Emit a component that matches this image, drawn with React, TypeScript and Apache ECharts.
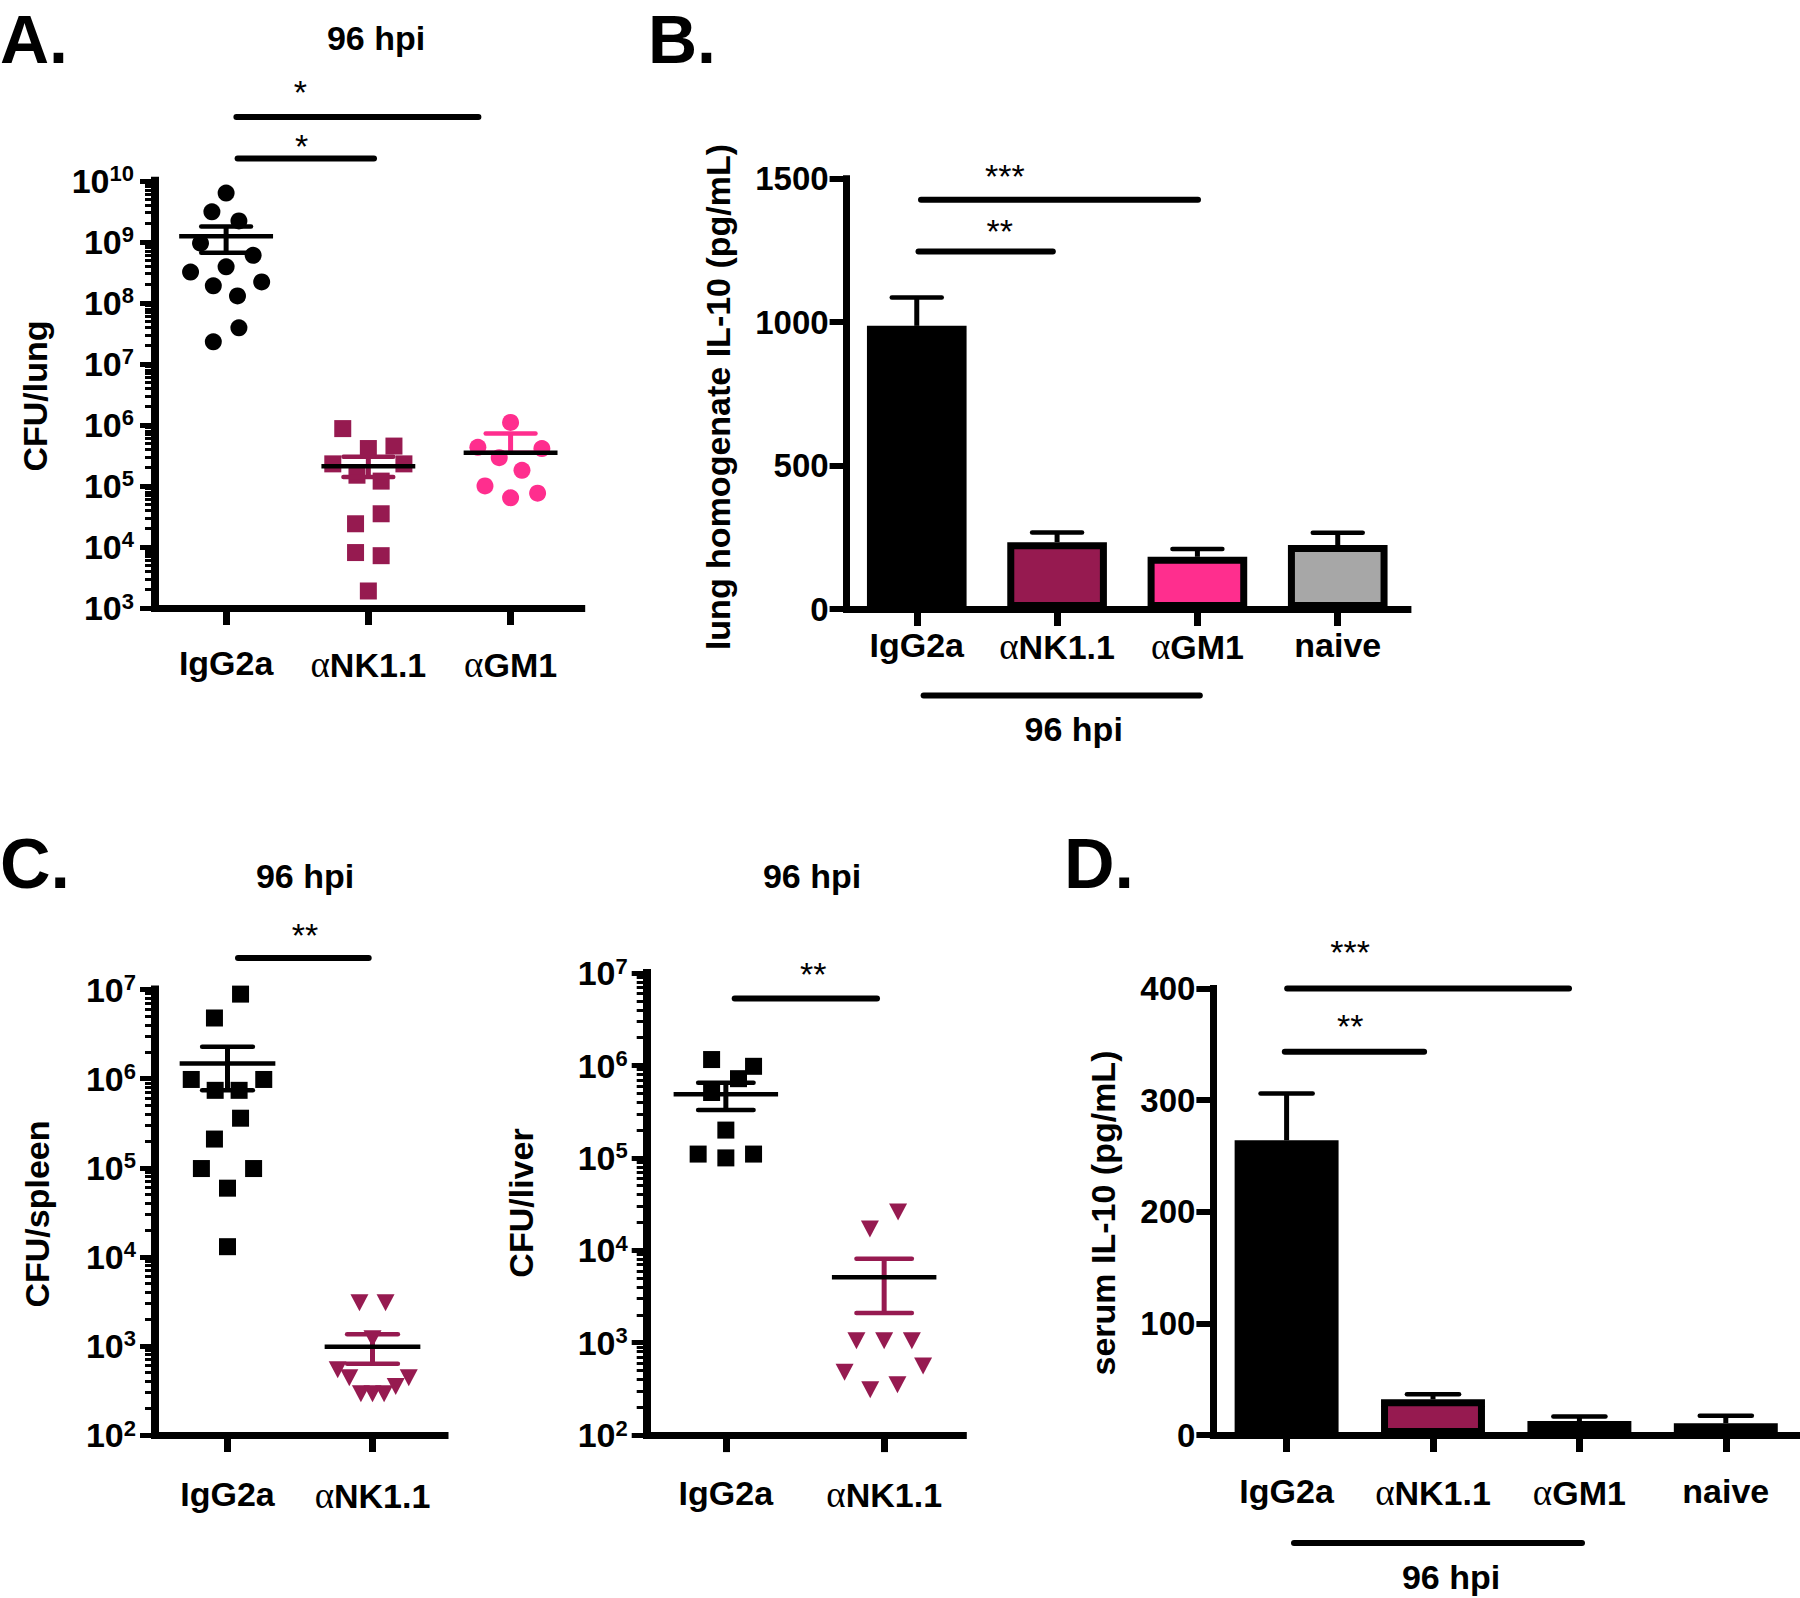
import React, { useEffect, useRef } from 'react';
import * as echarts from 'echarts';

const FONT = '"Liberation Sans", Arial, Helvetica, sans-serif';
const SERIF = '"Liberation Serif", "DejaVu Serif", serif';
const BLACK = '#000000';
const MAGENTA = '#961A50';
const PINK = '#FF2E8E';
const GREY = '#A7A7A7';

// ---------- Panel A: CFU/lung (log) ----------
const catsA = ['IgG2a', 'αNK1.1', 'αGM1'];
const lungIgG2a = [6.3e9, 3.1e9, 2.2e9, 9.5e8, 6.0e8, 3.9e8, 3.2e8, 2.2e8, 1.9e8, 1.3e8, 3.9e7, 2.3e7];
const lungIgG2aJitter = [0, -0.1, 0.09, -0.18, 0.19, 0, -0.25, 0.25, -0.09, 0.08, 0.09, -0.09];
const lungNK = [8.7e5, 4.1e5, 4.5e5, 2.3e5, 2.3e5, 1.5e5, 1.2e5, 3.5e4, 2.4e4, 8.1e3, 7.2e3, 1.9e3];
const lungNKJitter = [-0.18, 0, 0.18, -0.25, 0.25, -0.08, 0.09, 0.09, -0.09, -0.09, 0.09, 0];
const lungGM1 = [1.1e6, 4.3e5, 4.1e5, 2.9e5, 1.8e5, 1.0e5, 7.6e4, 6.4e4];
const lungGM1Jitter = [0, -0.23, 0.22, -0.08, 0.08, -0.18, 0.19, 0];
const lungMean = [1.23e9, 2.1e5, 3.5e5];
const lungSemHigh = [1.78e9, 3.0e5, 7.2e5];
const lungSemLow = [6.6e8, 1.4e5, 3.5e5];

// ---------- Panel B: lung homogenate IL-10 ----------
const catsB = ['IgG2a', 'αNK1.1', 'αGM1', 'naive'];
const lungIL10 = [987, 233, 182, 223];
const lungIL10High = [1086, 267, 209, 266];

// ---------- Panel C: CFU/spleen, CFU/liver (log) ----------
const catsC = ['IgG2a', 'αNK1.1'];
const spleenIgG2a = [8.9e6, 4.8e6, 9.8e5, 9.8e5, 7.4e5, 7.4e5, 3.6e5, 2.1e5, 9.8e4, 9.8e4, 5.9e4, 1.3e4];
const spleenIgG2aJitter = [0.09, -0.09, -0.25, 0.25, -0.085, 0.08, 0.09, -0.09, -0.18, 0.18, 0, 0];
const spleenNK = [3.05e3, 3.05e3, 1.2e3, 5.4e2, 4.4e2, 2.9e2, 2.9e2, 2.9e2, 3.5e2, 4.4e2];
const spleenNKJitter = [-0.09, 0.09, 0, -0.24, -0.16, -0.08, 0, 0.08, 0.16, 0.25];
const spleenMean = [1.48e6, 9.8e2];
const spleenSemHigh = [2.28e6, 1.35e3];
const spleenSemLow = [7.4e5, 6.3e2];

const liverIgG2a = [1.16e6, 9.8e5, 7.2e5, 5.1e5, 2.0e5, 1.1e5, 1.0e5, 1.1e5];
const liverIgG2aJitter = [-0.09, 0.175, 0.08, -0.09, 0, -0.175, 0, 0.175];
const liverNK = [2.6e4, 1.7e4, 1.05e3, 1.05e3, 1.05e3, 4.8e2, 5.6e2, 3.1e2, 3.5e2];
const liverNKJitter = [0.088, -0.09, -0.175, 0, 0.175, -0.25, 0.246, -0.088, 0.084];
const liverMean = [4.9e5, 5.1e3];
const liverSemHigh = [6.5e5, 8.1e3];
const liverSemLow = [3.3e5, 2.1e3];

// ---------- Panel D: serum IL-10 ----------
const catsD = ['IgG2a', 'αNK1.1', 'αGM1', 'naive'];
const serumIL10 = [264, 32, 12.5, 10.5];
const serumIL10High = [306, 36.5, 16.5, 17.3];

const barColors = [BLACK, MAGENTA, PINK, GREY];
const groupColors = [BLACK, MAGENTA, PINK];

function minorLogTicks(lo: number, hi: number) {
  const out: number[] = [];
  for (let n = lo; n < hi; n++) {
    for (let k = 2; k <= 9; k++) out.push(n + Math.log10(k));
  }
  return out;
}

const catLabel = (v: string) => (v.charAt(0) === 'α' ? `{al|α}{b|${v.slice(1)}}` : `{b|${v}}`);
const catRich = {
  b: { fontFamily: FONT, fontSize: 34, fontWeight: 'bold', color: BLACK },
  al: { fontFamily: SERIF, fontSize: 37, fontWeight: 'normal', color: BLACK },
};

function catAxis(gridIndex: number, data: string[], margin: number) {
  return {
    type: 'category', gridIndex, data, boundaryGap: true, position: 'bottom',
    axisLine: { show: true, onZero: false, lineStyle: { color: BLACK, width: 7, cap: 'square' } },
    axisTick: { show: true, alignWithLabel: true, length: 17, lineStyle: { color: BLACK, width: 7 } },
    axisLabel: { margin, interval: 0, formatter: catLabel, rich: catRich },
    splitLine: { show: false },
  };
}
function hiddenX(gridIndex: number, n: number) {
  return { type: 'value', gridIndex, min: -0.5, max: n - 0.5, show: false, splitLine: { show: false } };
}
function logY(gridIndex: number, lo: number, hi: number, margin: number) {
  return {
    type: 'log', logBase: 10, gridIndex, min: Math.pow(10, lo), max: Math.pow(10, hi), position: 'left',
    axisLine: { show: true, onZero: false, lineStyle: { color: BLACK, width: 8, cap: 'square' } },
    axisTick: { show: true, length: 15, lineStyle: { color: BLACK, width: 5 } },
    axisLabel: {
      margin,
      formatter: (v: number) => `{b|10}{s|${Math.round(Math.log10(v))}}`,
      rich: {
        b: { fontFamily: FONT, fontSize: 34, fontWeight: 'bold', color: BLACK, lineHeight: 36 },
        s: { fontFamily: FONT, fontSize: 22, fontWeight: 'bold', color: BLACK, lineHeight: 23, verticalAlign: 'top' },
      },
    },
    splitLine: { show: false },
    minorTick: { show: false },
  };
}
function minorY(gridIndex: number, lo: number, hi: number) {
  return {
    type: 'value', gridIndex, min: lo, max: hi, position: 'left',
    axisLine: { show: false, onZero: false },
    axisLabel: { show: false },
    splitLine: { show: false },
    axisTick: { show: true, length: 10, lineStyle: { color: BLACK, width: 3 }, customValues: minorLogTicks(lo, hi) },
  };
}
function linY(gridIndex: number, max: number, interval: number) {
  return {
    type: 'value', gridIndex, min: 0, max, interval, position: 'left',
    axisLine: { show: true, onZero: false, lineStyle: { color: BLACK, width: 7, cap: 'square' } },
    axisTick: { show: true, length: 17, lineStyle: { color: BLACK, width: 6 } },
    axisLabel: {
      margin: 18, color: BLACK, fontFamily: FONT, fontSize: 33, fontWeight: 'bold',
      formatter: (v: number) => String(v),
    },
    splitLine: { show: false },
  };
}

function scatter(xi: number, yi: number, vals: number[], jit: number[], center: number, symbol: string, color: string, size: any, rotate = 0) {
  return {
    type: 'scatter', xAxisIndex: xi, yAxisIndex: yi, symbol, symbolSize: size, symbolRotate: rotate,
    itemStyle: { color, opacity: 1 }, silent: true, z: 2,
    data: vals.map((v, i) => [center + jit[i], v]),
  };
}

function meanSem(xi: number, yi: number, means: number[], highs: number[], lows: number[], colors: string[]) {
  return {
    type: 'custom', xAxisIndex: xi, yAxisIndex: yi, z: 5, silent: true,
    data: means.map((m, i) => [i, m, highs[i], lows[i], i]),
    renderItem: (_p: any, api: any) => {
      const x = api.value(0);
      const pm = api.coord([x, api.value(1)]);
      const ph = api.coord([x, api.value(2)]);
      const pl = api.coord([x, api.value(3)]);
      const unit = api.coord([x + 1, api.value(1)])[0] - pm[0];
      const c = colors[api.value(4)];
      const capW = unit * 0.175;
      const meanW = unit * 0.33;
      const capStyle = { stroke: c, lineWidth: 4.5, lineCap: 'round' };
      return {
        type: 'group',
        children: [
          { type: 'line', shape: { x1: pm[0], y1: pl[1], x2: pm[0], y2: ph[1] }, style: { stroke: c, lineWidth: 5 } },
          { type: 'line', shape: { x1: pm[0] - capW, y1: ph[1], x2: pm[0] + capW, y2: ph[1] }, style: capStyle },
          { type: 'line', shape: { x1: pm[0] - capW, y1: pl[1], x2: pm[0] + capW, y2: pl[1] }, style: capStyle },
          { type: 'line', shape: { x1: pm[0] - meanW, y1: pm[1], x2: pm[0] + meanW, y2: pm[1] }, style: { stroke: BLACK, lineWidth: 4.5 } },
        ],
      };
    },
  };
}

function bars(xi: number, yi: number, vals: number[]) {
  return {
    type: 'bar', xAxisIndex: xi, yAxisIndex: yi, barWidth: '71%', silent: true, z: 2,
    itemStyle: { borderColor: BLACK, borderWidth: 7 },
    data: vals.map((v, i) => ({ value: v, itemStyle: { color: barColors[i] } })),
  };
}

function barErr(xi: number, yi: number, vals: number[], highs: number[]) {
  return {
    type: 'custom', xAxisIndex: xi, yAxisIndex: yi, z: 5, silent: true,
    data: vals.map((v, i) => [i, v, highs[i]]),
    renderItem: (_p: any, api: any) => {
      const p0 = api.coord([api.value(0), api.value(1)]);
      const p1 = api.coord([api.value(0), api.value(2)]);
      const band = api.size([1, 0])[0];
      const capW = band * 0.178;
      return {
        type: 'group',
        children: [
          { type: 'line', shape: { x1: p0[0], y1: p0[1], x2: p1[0], y2: p1[1] }, style: { stroke: BLACK, lineWidth: 5 } },
          { type: 'line', shape: { x1: p1[0] - capW, y1: p1[1], x2: p1[0] + capW, y2: p1[1] }, style: { stroke: BLACK, lineWidth: 4.5, lineCap: 'round' } },
        ],
      };
    },
  };
}

const txt = (text: string, x: number, y: number, size: number, opts: any = {}) => ({
  type: 'text', x, y, rotation: opts.rot || 0, silent: true,
  style: {
    text, fontFamily: FONT, fontSize: size, fontWeight: opts.weight || 'bold', fill: BLACK,
    align: opts.align || 'center', verticalAlign: 'middle',
  },
});
const hbar = (x1: number, x2: number, y: number) => ({
  type: 'line', silent: true, shape: { x1, y1: y, x2, y2: y },
  style: { stroke: BLACK, lineWidth: 6, lineCap: 'round' },
});

export default function App() {
  const ref = useRef<HTMLDivElement>(null);
  useEffect(() => {
    if (!ref.current) return;
    const chart = echarts.init(ref.current, null, { renderer: 'svg' });
    const option: any = {
      animation: false,
      backgroundColor: '#ffffff',
      textStyle: { fontFamily: FONT },
      grid: [
        { left: 155, top: 180.8, width: 426.7, height: 427.2, outerBoundsMode: 'none' },
        { left: 846.6, top: 178.7, width: 561.3, height: 430.3, outerBoundsMode: 'none' },
        { left: 155, top: 989.6, width: 290, height: 445.4, outerBoundsMode: 'none' },
        { left: 646.7, top: 973.1, width: 316.6, height: 462, outerBoundsMode: 'none' },
        { left: 1213.4, top: 988.5, width: 585.6, height: 446.5, outerBoundsMode: 'none' },
      ],
      xAxis: [
        catAxis(0, catsA, 38),
        hiddenX(0, catsA.length),
        catAxis(1, catsB, 19),
        catAxis(2, catsC, 42),
        hiddenX(2, catsC.length),
        catAxis(3, catsC, 41),
        hiddenX(3, catsC.length),
        catAxis(4, catsD, 39),
      ],
      yAxis: [
        logY(0, 3, 10, 21),
        minorY(0, 3, 10),
        linY(1, 1500, 500),
        logY(2, 2, 7, 19),
        minorY(2, 2, 7),
        logY(3, 2, 7, 19),
        minorY(3, 2, 7),
        linY(4, 400, 100),
      ],
      series: [
        // A
        scatter(1, 0, lungIgG2a, lungIgG2aJitter, 0, 'circle', BLACK, 17),
        scatter(1, 0, lungNK, lungNKJitter, 1, 'rect', MAGENTA, 17),
        scatter(1, 0, lungGM1, lungGM1Jitter, 2, 'circle', PINK, 17),
        meanSem(1, 0, lungMean, lungSemHigh, lungSemLow, groupColors),
        // B
        bars(2, 2, lungIL10),
        barErr(2, 2, lungIL10, lungIL10High),
        // C spleen
        scatter(4, 3, spleenIgG2a, spleenIgG2aJitter, 0, 'rect', BLACK, 17),
        scatter(4, 3, spleenNK, spleenNKJitter, 1, 'triangle', MAGENTA, [18, 17], 180),
        meanSem(4, 3, spleenMean, spleenSemHigh, spleenSemLow, groupColors),
        // C liver
        scatter(6, 5, liverIgG2a, liverIgG2aJitter, 0, 'rect', BLACK, 17),
        scatter(6, 5, liverNK, liverNKJitter, 1, 'triangle', MAGENTA, [18, 17], 180),
        meanSem(6, 5, liverMean, liverSemHigh, liverSemLow, groupColors),
        // D
        bars(7, 7, serumIL10),
        barErr(7, 7, serumIL10, serumIL10High),
      ],
      graphic: [
        // panel letters
        txt('A.', 0, 39, 68, { align: 'left' }),
        txt('B.', 648, 39, 68, { align: 'left' }),
        txt('C.', 0, 864, 70, { align: 'left' }),
        txt('D.', 1064, 864, 70, { align: 'left' }),
        // titles
        txt('96 hpi', 376, 38, 34),
        txt('96 hpi', 305, 876, 34),
        txt('96 hpi', 812, 876, 34),
        // y-axis titles
        txt('CFU/lung', 35, 396, 34, { rot: Math.PI / 2 }),
        txt('lung homogenate IL-10 (pg/mL)', 718, 397, 34, { rot: Math.PI / 2 }),
        txt('CFU/spleen', 37, 1214, 34, { rot: Math.PI / 2 }),
        txt('CFU/liver', 521, 1203, 34, { rot: Math.PI / 2 }),
        txt('serum IL-10 (pg/mL)', 1103, 1213, 34, { rot: Math.PI / 2 }),
        // significance bars A
        hbar(236.4, 478.4, 117),
        hbar(237.6, 374, 158.5),
        txt('*', 300.4, 91.5, 34, { weight: 'normal' }),
        txt('*', 301.6, 145.5, 34, { weight: 'normal' }),
        // B
        hbar(921, 1198, 199.8),
        hbar(918.5, 1052.8, 251.5),
        txt('***', 1004.8, 175.5, 34, { weight: 'normal' }),
        txt('**', 999.7, 230.5, 34, { weight: 'normal' }),
        hbar(923.6, 1199.8, 695.6),
        txt('96 hpi', 1073.7, 729, 34),
        // C
        hbar(238, 368.7, 958),
        txt('**', 305, 935, 34, { weight: 'normal' }),
        hbar(734.7, 877, 998.4),
        txt('**', 813.3, 973.8, 34, { weight: 'normal' }),
        // D
        hbar(1287.2, 1569, 988.5),
        hbar(1284.8, 1424.1, 1051.7),
        txt('***', 1350.2, 951.8, 34, { weight: 'normal' }),
        txt('**', 1350.2, 1026, 34, { weight: 'normal' }),
        hbar(1294, 1582, 1543),
        txt('96 hpi', 1451, 1577, 34),
      ],
    };
    chart.setOption(option);
    return () => chart.dispose();
  }, []);
  return (
    <div
      ref={ref}
      style={{ position: 'absolute', left: 0, top: 0, width: 1800, height: 1598, background: '#fff' }}
    />
  );
}
